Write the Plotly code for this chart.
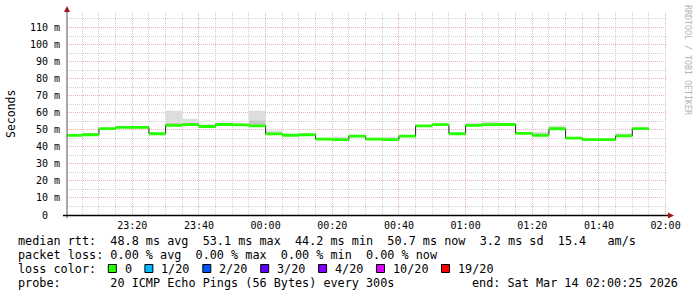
import plotly.graph_objects as go
from datetime import datetime, timedelta

# ---------------- data ----------------
step_end = ["23:05", "23:10", "23:15", "23:20", "23:25", "23:30", "23:35", "23:40",
            "23:45", "23:50", "23:55", "00:00", "00:05", "00:10", "00:15", "00:20",
            "00:25", "00:30", "00:35", "00:40", "00:45", "00:50", "00:55", "01:00",
            "01:05", "01:10", "01:15", "01:20", "01:25", "01:30", "01:35", "01:40",
            "01:45", "01:50", "01:55"]
median_ms = [46.7, 47.1, 50.7, 51.4, 51.4, 47.7, 52.6, 53.0,
             51.9, 53.1, 52.9, 52.3, 47.6, 46.8, 47.1, 44.5,
             44.2, 46.3, 44.5, 44.2, 46.3, 52.3, 53.0, 47.7,
             52.6, 53.0, 53.1, 47.9, 46.8, 50.6, 45.1, 44.2,
             44.2, 46.4, 50.7]
smoke_hi_ms = [46.7, 48.3, 50.7, 51.4, 51.4, 47.7, 61.2, 56.5,
               53.3, 54.3, 52.9, 61.2, 49.6, 46.8, 47.1, 44.5,
               45.9, 46.3, 44.5, 45.9, 46.3, 52.3, 53.0, 47.7,
               53.9, 54.9, 53.1, 47.9, 48.8, 52.4, 45.1, 44.2,
               45.1, 47.9, 50.7]
smoke_mid_ms = [46.7, 47.1, 50.7, 51.4, 51.4, 47.7, 54.0, 53.0,
                51.9, 53.1, 52.9, 55.5, 47.6, 46.8, 47.1, 44.5,
                44.2, 46.3, 44.5, 44.2, 46.3, 52.3, 53.0, 47.7,
                52.6, 53.0, 53.1, 47.9, 46.8, 50.6, 45.1, 44.2,
                44.2, 46.4, 50.7]

y_ticks = [0, 10, 20, 30, 40, 50, 60, 70, 80, 90, 100, 110]
y_labels = ["0\u00a0\u00a0", "10 m", "20 m", "30 m", "40 m", "50 m", "60 m",
            "70 m", "80 m", "90 m", "100 m", "110 m"]

rtt_stats = ["48.8 ms avg", "53.1 ms max", "44.2 ms min", "50.7 ms now", "3.2 ms sd", "15.4   am/s"]
loss_stats = ["0.00 % avg", "0.00 % max", "0.00 % min", "0.00 % now"]
loss_labels = ["0", "1/20", "2/20", "3/20", "4/20", "10/20", "19/20"]
loss_colors = ["#26ff00", "#00b8ff", "#0059ff", "#5e00ff", "#7e00ff", "#dd00ff", "#ff0000"]
probe_text = "20 ICMP Echo Pings (56 Bytes) every 300s"
end_text = "end: Sat Mar 14 02:00:25 2026"

x_start = "2026-03-13 23:00:25"
x_end = "2026-03-14 02:00:25"

# ---------------- helpers ----------------
def to_dt(hm):
    h, m = map(int, hm.split(":"))
    day = 13 if h >= 12 else 14
    return datetime(2026, 3, day, h, m)

ends = [to_dt(t) for t in step_end]
step = timedelta(minutes=5)
xs = [t - step for t in ends] + [ends[-1]]

def stepped(vals):
    return list(vals) + [vals[-1]]

BAND = 0.85
L, T, W, H = 67, 13, 600, 202
def px(x):
    return (x - L) / W
def py(y):
    return (T + H - y) / H

MONO = "DejaVu Sans Mono"
fig = go.Figure()

def band(lo, hi, color):
    fig.add_trace(go.Scatter(x=xs, y=stepped(lo), mode="lines", line=dict(width=0, shape="hv"),
                             hoverinfo="skip", showlegend=False))
    fig.add_trace(go.Scatter(x=xs, y=stepped(hi), mode="lines", line=dict(width=0, shape="hv"),
                             fill="tonexty", fillcolor=color, hoverinfo="skip", showlegend=False))

band(median_ms, smoke_hi_ms, "#dddddd")
band(median_ms, smoke_mid_ms, "#c8c8c8")
fig.add_trace(go.Scatter(x=xs, y=stepped(median_ms), mode="lines",
                         line=dict(color="#202020", width=1, shape="hv"), showlegend=False))
band([v - BAND for v in median_ms], [v + BAND for v in median_ms], loss_colors[0])

# ---------------- annotations ----------------
ann = []
def text(x, y, s, anchor="left", size=11.8, color="#000000", angle=0, yanchor="middle"):
    ann.append(dict(x=px(x), y=py(y), xref="paper", yref="paper", text=s.replace(" ", "\u00a0"),
                    showarrow=False, xanchor=anchor, yanchor=yanchor, textangle=angle,
                    font=dict(family=MONO, size=size, color=color)))

CW = 7.1
row1 = "median rtt:  " + "  ".join(rtt_stats)
row2 = "packet loss: " + "  ".join(loss_stats)
text(16, 241, row1)
text(16, 255, row2)
text(16, 269, "loss color:")
text(16, 283, "probe:       " + probe_text)
text(680, 283, end_text, anchor="right")

shapes = []
sx = 16 + 13 * CW
for lab, col in zip(loss_labels, loss_colors):
    shapes.append(dict(type="rect", xref="paper", yref="paper",
                       x0=px(sx), x1=px(sx + 8), y0=py(264.5), y1=py(272.5),
                       fillcolor=col, line=dict(color="#000000", width=1)))
    text(sx + 14.5, 269, lab)
    sx += 15 + len(lab) * CW + 14.5

text(11, 114, "Seconds", anchor="center", size=11.5, angle=-90)
text(688, 60, "RRDTOOL / TOBI OETIKER", anchor="center", size=8.3, color="#b4b4b4", angle=90)

# axis lines & arrows
shapes.append(dict(type="line", xref="paper", yref="paper", x0=px(67), x1=px(67),
                   y0=py(218), y1=py(10), line=dict(color="#555555", width=1)))
shapes.append(dict(type="line", xref="paper", yref="paper", x0=px(63), x1=px(669),
                   y0=py(215.5), y1=py(215.5), line=dict(color="#000000", width=1.5)))
shapes.append(dict(type="path", xref="paper", yref="paper",
                   path=f"M {px(64)} {py(12)} L {px(70)} {py(12)} L {px(67)} {py(6)} Z",
                   fillcolor="#a01818", line=dict(width=0)))
shapes.append(dict(type="path", xref="paper", yref="paper",
                   path=f"M {px(668)} {py(212.5)} L {px(668)} {py(218.5)} L {px(674)} {py(215.5)} Z",
                   fillcolor="#a01818", line=dict(width=0)))

MAJ = "#e8b4b4"
MIN = "#cfcfcf"
fig.update_layout(
    width=697, height=297,
    margin=dict(l=L, r=697 - L - W, t=T, b=297 - T - H),
    paper_bgcolor="#ffffff", plot_bgcolor="#ffffff",
    showlegend=False,
    annotations=ann, shapes=shapes,
    xaxis=dict(type="date", range=[x_start, x_end], tick0="2026-03-13 23:20:00",
               dtick=1200000, tickformat="%H:%M", showgrid=True, gridcolor=MAJ,
               griddash="1px,1px", gridwidth=1, ticks="", ticklabelstandoff=3,
               tickfont=dict(family=MONO, size=10, color="#000000"),
               minor=dict(dtick=300000, showgrid=True, gridcolor=MIN, griddash="1px,1px", gridwidth=1),
               showline=False, zeroline=False, fixedrange=True),
    yaxis=dict(range=[0, 118.5], tickmode="array", tickvals=y_ticks, ticktext=y_labels,
               showgrid=True, gridcolor=MAJ, griddash="1px,1px", gridwidth=1, ticks="",
               ticklabelstandoff=6,
               tickfont=dict(family=MONO, size=10, color="#000000"),
               minor=dict(tickmode="linear", tick0=0, dtick=5, showgrid=True, gridcolor=MIN,
                          griddash="1px,1px", gridwidth=1),
               showline=False, zeroline=False, fixedrange=True),
)

fig.write_html("out.html", config={"displayModeBar": False})
